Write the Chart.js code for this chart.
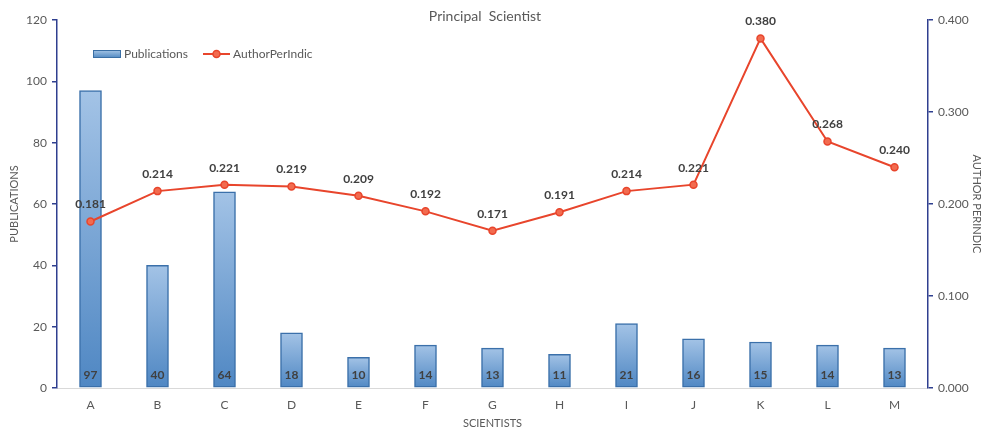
<!DOCTYPE html>
<html>
<head>
<meta charset="utf-8">
<script src="https://cdn.jsdelivr.net/npm/chart.js@4.4.0/dist/chart.umd.min.js"></script>
<style>
  html, body { margin: 0; padding: 0; background: #fff; }
  #wrap { width: 983px; height: 434px; position: relative; }
</style>
</head>
<body>
<div id="wrap"><canvas id="myChart" width="983" height="434"></canvas></div>
<script>
const scientists = ["A", "B", "C", "D", "E", "F", "G", "H", "I", "J", "K", "L", "M"];
const publications = [97, 40, 64, 18, 10, 14, 13, 11, 21, 16, 15, 14, 13];
const authorPerIndic = [0.181, 0.214, 0.221, 0.219, 0.209, 0.192, 0.171, 0.191, 0.214, 0.221, 0.380, 0.268, 0.240];
const pubTicks = [0, 20, 40, 60, 80, 100, 120];
const indicTicks = [0, 0.1, 0.2, 0.3, 0.4];

const FONT = "Lato, 'Open Sans', sans-serif";
const TXT = "#595959";
const AXIS = "#2f3f8f";
const RED = "#e8452c";

// each bar gets its own light-to-dark fill
function barFill(context) {
  const chart = context.chart;
  const y = chart.scales.y;
  if (!y || !context.parsed) return "#7aa5d6";
  const top = y.getPixelForValue(context.parsed.y);
  const bottom = y.bottom;
  if (!isFinite(top) || !isFinite(bottom) || bottom <= top) return "#7aa5d6";
  const g = chart.ctx.createLinearGradient(0, top, 0, bottom);
  g.addColorStop(0, "#a3c3e6");
  g.addColorStop(1, "#4f87c3");
  return g;
}

// value labels, legend and title drawn straight on the canvas
const decorPlugin = {
  id: "decor",
  afterDatasetsDraw(chart) {
    const c = chart.ctx;
    c.save();
    c.font = "bold 12px " + FONT;
    c.fillStyle = "#404040";
    c.textAlign = "center";
    c.textBaseline = "middle";
    chart.getDatasetMeta(0).data.forEach(function (bar, i) {
      c.fillText(publications[i], bar.x, chart.scales.y.bottom - 13);
    });
    chart.getDatasetMeta(1).data.forEach(function (pt, i) {
      c.fillText(authorPerIndic[i].toFixed(3), pt.x, pt.y - 17);
    });

    // title
    c.font = "14px " + FONT;
    c.fillStyle = TXT;
    c.fillText("Principal  Scientist", 485, 16);

    // legend
    let g = c.createLinearGradient(0, 50, 0, 58);
    g.addColorStop(0, "#a7c6e6");
    g.addColorStop(1, "#4f88c2");
    c.fillStyle = g;
    c.strokeStyle = "#3a6fa5";
    c.lineWidth = 1;
    c.fillRect(93, 50.5, 27, 7);
    c.strokeRect(93.5, 50.5, 27, 7);
    c.font = "12px " + FONT;
    c.fillStyle = TXT;
    c.textAlign = "left";
    c.fillText("Publications", 124, 54);

    c.strokeStyle = RED;
    c.lineWidth = 2;
    c.beginPath();
    c.moveTo(203, 54);
    c.lineTo(230, 54);
    c.stroke();
    c.beginPath();
    c.arc(216.5, 54, 3.5, 0, Math.PI * 2);
    c.fillStyle = "#f26b4f";
    c.fill();
    c.lineWidth = 1.5;
    c.stroke();
    c.fillStyle = TXT;
    c.fillText("AuthorPerIndic", 233, 54);
    c.restore();
  }
};

const ctx = document.getElementById("myChart").getContext("2d");

const myChart = new Chart(ctx, {
  type: "bar",
  data: {
    labels: scientists,
    datasets: [
      {
        label: "Publications",
        data: publications,
        yAxisID: "y",
        backgroundColor: barFill,
        borderColor: "#3b70aa",
        borderWidth: 1.5,
        borderSkipped: false,
        barThickness: 22,
        order: 1
      },
      {
        type: "line",
        label: "AuthorPerIndic",
        data: authorPerIndic,
        yAxisID: "y1",
        borderColor: RED,
        borderWidth: 2,
        pointRadius: 3.5,
        pointBackgroundColor: "#f26b4f",
        pointBorderColor: RED,
        pointBorderWidth: 1.5,
        tension: 0,
        order: 0
      }
    ]
  },
  options: {
    responsive: false,
    animation: false,
    devicePixelRatio: 1,
    layout: { padding: { top: 20, left: 8, right: 0, bottom: 0 } },
    plugins: {
      legend: { display: false },
      title: { display: false },
      tooltip: { enabled: false }
    },
    scales: {
      x: {
        grid: { display: false, drawTicks: false },
        border: { color: "#d9d9d9", width: 1 },
        ticks: { color: TXT, font: { family: FONT, size: 12 }, padding: 10, maxRotation: 0, autoSkip: false },
        title: { display: true, text: "SCIENTISTS", color: TXT, font: { family: FONT, size: 11 }, padding: { top: 2 } },
        afterFit(s) { s.height = 46; }
      },
      y: {
        position: "left",
        min: 0,
        max: 120,
        afterBuildTicks(s) { s.ticks = pubTicks.map(v => ({ value: v })); },
        grid: { drawOnChartArea: false, color: AXIS, tickLength: 5, lineWidth: 1.5 },
        border: { color: AXIS, width: 1.5 },
        ticks: { color: TXT, font: { family: FONT, size: 12 }, padding: 5 },
        title: { display: true, text: "PUBLICATIONS", color: TXT, font: { family: FONT, size: 11 }, padding: 0 },
        afterFit(s) { s.width = 49; }
      },
      y1: {
        position: "right",
        min: 0,
        max: 0.4,
        afterBuildTicks(s) { s.ticks = indicTicks.map(v => ({ value: v })); },
        grid: { drawOnChartArea: false, color: AXIS, tickLength: 5, lineWidth: 1.5 },
        border: { color: AXIS, width: 1.5 },
        ticks: {
          color: TXT,
          font: { family: FONT, size: 12 },
          padding: 5,
          callback: v => Number(v).toFixed(3)
        },
        title: { display: true, text: "AUTHOR PERINDIC", color: TXT, font: { family: FONT, size: 11 }, padding: 0 },
        afterFit(s) { s.width = 55; }
      }
    }
  },
  plugins: [decorPlugin]
});
</script>
</body>
</html>
